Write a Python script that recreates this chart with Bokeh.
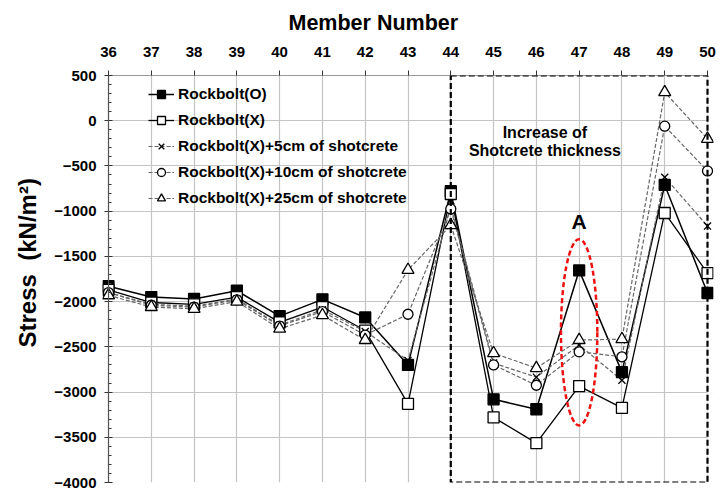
from bokeh.plotting import figure
from bokeh.models import (Range1d, FixedTicker, Legend, LegendItem, BoxAnnotation, Label, Title, Span)
from bokeh.embed import file_html
from bokeh.resources import INLINE

members = [36, 37, 38, 39, 40, 41, 42, 43, 44, 45, 46, 47, 48, 49, 50]
rockbolt_o = [-1830, -1950, -1970, -1880, -2160, -1975, -2175, -2700, -780, -3080, -3190, -1655, -2780, -710, -1905]
rockbolt_x = [-1870, -2010, -2030, -1950, -2230, -2060, -2320, -3130, -810, -3280, -3565, -2935, -3175, -1020, -1685]
shot_5 = [-1900, -2030, -2050, -1970, -2260, -2090, -2330, -2650, -950, -2680, -2835, -2480, -2870, -625, -1165]
shot_10 = [-1900, -2040, -2060, -1980, -2270, -2110, -2370, -2140, -975, -2700, -2925, -2555, -2610, -60, -555]
shot_25 = [-1930, -2060, -2080, -2000, -2300, -2150, -2425, -1650, -1155, -2570, -2735, -2425, -2415, 315, -200]

labels = ["Rockbolt(O)", "Rockbolt(X)", "Rockbolt(X)+5cm of shotcrete",
          "Rockbolt(X)+10cm of shotcrete", "Rockbolt(X)+25cm of shotcrete"]
y_ticks = list(range(-4000, 501, 500))
y_minor = list(range(-4000, 501, 100))

x_first, x_last = 36, 50
y_low, y_high = -4000, 500
pad = 0.14  # room so the edge markers are not clipped

box_left, box_right, box_top, box_bottom = 44, 50, 500, -4000
ellipse_x, ellipse_y, ellipse_w, ellipse_h = 47, -2340, 0.85, 2060

FONT = "Liberation Sans"

p = figure(width=718, height=490, output_backend="svg", toolbar_location=None,
           x_axis_location="above",
           x_range=Range1d(x_first - pad, x_last + pad), y_range=Range1d(y_low, y_high),
           min_border_left=102, min_border_top=75, min_border_right=5, min_border_bottom=8,
           frame_width=611, frame_height=407)
p.outline_line_color = None
p.background_fill_color = "white"

# grids
for g in (p.xgrid, p.ygrid):
    g.grid_line_color = "#c4c4c4"
    g.grid_line_width = 1.2

# white strips hide grid stubs outside 36..50 (drawn under the glyphs)
for l, r in ((x_first - pad, x_first), (x_last, x_last + pad)):
    p.add_layout(BoxAnnotation(left=l, right=r, fill_color="white", fill_alpha=1.0,
                               line_alpha=0, level="underlay"))

# axes
xa = p.xaxis[0]
xa.ticker = FixedTicker(ticks=members, minor_ticks=[])
xa.bounds = (x_first, x_last)
xa.major_label_text_font = FONT
xa.major_label_text_font_style = "bold"
xa.major_label_text_font_size = "15px"
xa.major_label_text_color = "black"
xa.major_label_standoff = 14
xa.axis_line_color = "#999999"
xa.major_tick_out = 5
xa.major_tick_in = 0
xa.major_tick_line_color = "#333333"

ya = p.yaxis[0]
ya.ticker = FixedTicker(ticks=y_ticks, minor_ticks=y_minor)
ya.major_label_text_font = FONT
ya.major_label_text_font_style = "bold"
ya.major_label_text_font_size = "15px"
ya.major_label_text_color = "black"
ya.major_label_standoff = 8
ya.axis_line_color = None
ya.major_tick_in = 10
ya.major_tick_out = -2
ya.minor_tick_in = 9
ya.minor_tick_out = -6
ya.major_tick_line_color = "#333333"
ya.minor_tick_line_color = "#333333"

# visible y axis line at member 36
p.add_layout(Span(location=x_first, dimension="height", line_color="#555555", line_width=1.2))

# axis titles
p.add_layout(Title(text="Member Number", align="left", offset=186, text_font=FONT,
                   text_font_style="bold", text_font_size="21.5px", text_color="black",
                   standoff=17), "above")
p.add_layout(Title(text="Stress\u00a0\u00a0(kN/m\u00b2)", align="left", offset=135, text_font=FONT,
                   text_font_style="bold", text_font_size="24px", text_color="black",
                   standoff=21), "left")

# dashed box
box = BoxAnnotation(left=box_left, right=box_right, top=box_top, bottom=box_bottom,
                    fill_alpha=0, line_color="black", line_alpha=1.0, line_width=2.2,
                    line_dash="6 3")
p.add_layout(box)

series = [
    (rockbolt_o, "square", "black", "black", "solid", 1.5, 11),
    (rockbolt_x, "square", "white", "black", "solid", 1.3, 11),
    (shot_5, "x", None, "black", "4 2", 1.2, 10),
    (shot_10, "circle", "white", "black", "4 2", 1.2, 10),
    (shot_25, "triangle", "white", "black", "4 2", 1.2, 12),
]
line_colors = ["black", "black", "#666666", "#666666", "#666666"]

items = []
line_rs = []
for i, (vals, marker, fill, mline, dash, lw, size) in enumerate(series):
    lr = p.line(members, vals, line_color=line_colors[i], line_width=lw, line_dash=dash)
    line_rs.append(lr)
scatter_rs = []
for i, (vals, marker, fill, mline, dash, lw, size) in enumerate(series):
    sr = p.scatter(members, vals, marker=marker, size=size,
                   fill_color=fill if fill else "black", line_color=mline, line_width=1.3)
    scatter_rs.append(sr)
for i in range(5):
    items.append(LegendItem(label=labels[i], renderers=[line_rs[i], scatter_rs[i]]))

legend = Legend(items=items, location=(46, 274))
legend.background_fill_alpha = 0
legend.border_line_color = None
legend.label_text_font = FONT
legend.label_text_font_style = "bold"
legend.label_text_font_size = "15.5px"
legend.label_text_color = "black"
legend.glyph_width = 26
legend.glyph_height = 20
legend.label_height = 20
legend.spacing = 6
legend.padding = 5
legend.label_standoff = 4
p.add_layout(legend)

# ellipse
p.ellipse(x=[ellipse_x], y=[ellipse_y], width=ellipse_w, height=ellipse_h,
          fill_color=None, line_color="#ee1111", line_width=2.5, line_dash="5 3")

p.add_layout(Label(x=47, y=-1110, text="A", text_font=FONT, text_font_style="bold",
                   text_font_size="21px", text_color="black",
                   text_align="center", text_baseline="middle"))
p.add_layout(Label(x=46.2, y=-130, text="Increase of", text_font=FONT, text_font_style="bold",
                   text_font_size="16px", text_color="black",
                   text_align="center", text_baseline="middle"))
p.add_layout(Label(x=46.2, y=-330, text="Shotcrete thickness", text_font=FONT,
                   text_font_style="bold", text_font_size="16px", text_color="black",
                   text_align="center", text_baseline="middle"))

open("out.html", "w").write(file_html(p, INLINE))
